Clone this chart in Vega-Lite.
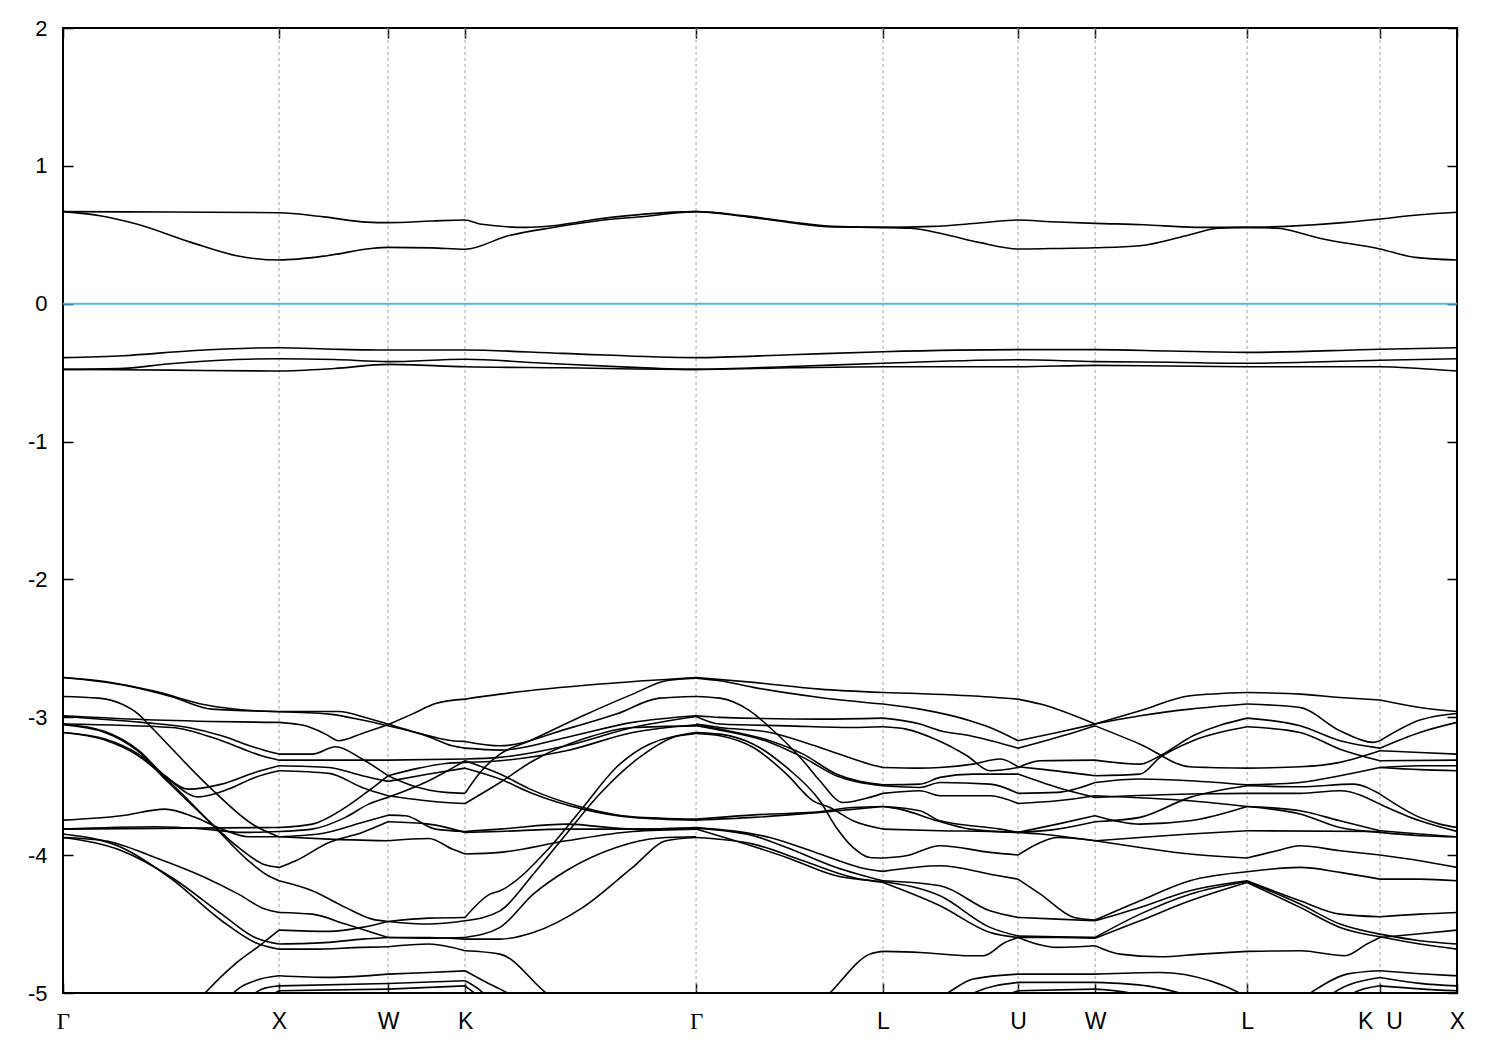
{
"$schema":"https://vega.github.io/schema/vega-lite/v6.json",
"width":1394,"height":965,
"autosize":{"type":"none"},
"padding":{"left":63,"top":28,"right":43,"bottom":57},
"background":"white",
"config":{"view":{"stroke":"black","strokeWidth":2},"axis":{"labelFont":"Liberation Sans","labelFontSize":22,"labelColor":"black","tickColor":"black","tickWidth":1.5,"domain":false,"grid":false,"labelOverlap":false,"labelFlush":false}},
"datasets":{
"bands":[
{"b":"cu","k":0,"e":0.668},{"b":"cu","k":0.5,"e":0.665},{"b":"cu","k":0.995,"e":0.66},{"b":"cu","k":1.2,"e":0.63},{"b":"cu","k":1.4,"e":0.592},{"b":"cu","k":1.497,"e":0.588},{"b":"cu","k":1.7,"e":0.6},{"b":"cu","k":1.852,"e":0.607},{"b":"cu","k":1.92,"e":0.578},{"b":"cu","k":2.133,"e":0.554},{"b":"cu","k":2.257,"e":0.566},{"b":"cu","k":2.464,"e":0.614},{"b":"cu","k":2.676,"e":0.65},{"b":"cu","k":2.916,"e":0.668},{"b":"cu","k":3.131,"e":0.639},{"b":"cu","k":3.343,"e":0.595},{"b":"cu","k":3.548,"e":0.561},{"b":"cu","k":3.777,"e":0.554},{"b":"cu","k":4.007,"e":0.561},{"b":"cu","k":4.219,"e":0.585},{"b":"cu","k":4.399,"e":0.607},{"b":"cu","k":4.55,"e":0.595},{"b":"cu","k":4.754,"e":0.583},{"b":"cu","k":4.979,"e":0.573},{"b":"cu","k":5.214,"e":0.554},{"b":"cu","k":5.454,"e":0.554},{"b":"cu","k":5.656,"e":0.563},{"b":"cu","k":5.91,"e":0.59},{"b":"cu","k":6.066,"e":0.615},{"b":"cu","k":6.25,"e":0.645},{"b":"cu","k":6.421,"e":0.663},
{"b":"cl","k":0,"e":0.668},{"b":"cl","k":0.17,"e":0.638},{"b":"cl","k":0.339,"e":0.578},{"b":"cl","k":0.59,"e":0.445},{"b":"cl","k":0.8,"e":0.348},{"b":"cl","k":0.995,"e":0.317},{"b":"cl","k":1.216,"e":0.348},{"b":"cl","k":1.42,"e":0.401},{"b":"cl","k":1.497,"e":0.409},{"b":"cl","k":1.7,"e":0.405},{"b":"cl","k":1.852,"e":0.395},{"b":"cl","k":2.05,"e":0.493},{"b":"cl","k":2.257,"e":0.553},{"b":"cl","k":2.464,"e":0.602},{"b":"cl","k":2.676,"e":0.633},{"b":"cl","k":2.916,"e":0.668},{"b":"cl","k":3.131,"e":0.635},{"b":"cl","k":3.343,"e":0.59},{"b":"cl","k":3.548,"e":0.557},{"b":"cl","k":3.777,"e":0.554},{"b":"cl","k":3.906,"e":0.547},{"b":"cl","k":4.054,"e":0.506},{"b":"cl","k":4.219,"e":0.445},{"b":"cl","k":4.399,"e":0.397},{"b":"cl","k":4.55,"e":0.4},{"b":"cl","k":4.754,"e":0.406},{"b":"cl","k":4.961,"e":0.421},{"b":"cl","k":5.173,"e":0.493},{"b":"cl","k":5.32,"e":0.547},{"b":"cl","k":5.454,"e":0.554},{"b":"cl","k":5.592,"e":0.547},{"b":"cl","k":5.804,"e":0.469},{"b":"cl","k":6.066,"e":0.397},{"b":"cl","k":6.228,"e":0.336},{"b":"cl","k":6.421,"e":0.317},
{"b":"v1","k":0,"e":-0.391},{"b":"v1","k":0.28,"e":-0.377},{"b":"v1","k":0.59,"e":-0.341},{"b":"v1","k":0.995,"e":-0.319},{"b":"v1","k":1.25,"e":-0.33},{"b":"v1","k":1.497,"e":-0.336},{"b":"v1","k":1.852,"e":-0.336},{"b":"v1","k":2.3,"e":-0.36},{"b":"v1","k":2.916,"e":-0.391},{"b":"v1","k":3.35,"e":-0.37},{"b":"v1","k":3.777,"e":-0.348},{"b":"v1","k":4.399,"e":-0.333},{"b":"v1","k":4.754,"e":-0.333},{"b":"v1","k":5.1,"e":-0.343},{"b":"v1","k":5.454,"e":-0.353},{"b":"v1","k":6.066,"e":-0.33},{"b":"v1","k":6.421,"e":-0.319},
{"b":"v2","k":0,"e":-0.476},{"b":"v2","k":0.28,"e":-0.469},{"b":"v2","k":0.48,"e":-0.437},{"b":"v2","k":0.8,"e":-0.405},{"b":"v2","k":0.995,"e":-0.399},{"b":"v2","k":1.25,"e":-0.405},{"b":"v2","k":1.497,"e":-0.42},{"b":"v2","k":1.852,"e":-0.403},{"b":"v2","k":2.2,"e":-0.43},{"b":"v2","k":2.6,"e":-0.46},{"b":"v2","k":2.916,"e":-0.476},{"b":"v2","k":3.35,"e":-0.455},{"b":"v2","k":3.777,"e":-0.432},{"b":"v2","k":4.399,"e":-0.406},{"b":"v2","k":4.754,"e":-0.42},{"b":"v2","k":5.1,"e":-0.425},{"b":"v2","k":5.454,"e":-0.432},{"b":"v2","k":6.066,"e":-0.41},{"b":"v2","k":6.421,"e":-0.399},
{"b":"v3","k":0,"e":-0.476},{"b":"v3","k":0.5,"e":-0.482},{"b":"v3","k":0.995,"e":-0.488},{"b":"v3","k":1.25,"e":-0.47},{"b":"v3","k":1.497,"e":-0.44},{"b":"v3","k":1.852,"e":-0.457},{"b":"v3","k":2.3,"e":-0.465},{"b":"v3","k":2.916,"e":-0.476},{"b":"v3","k":3.35,"e":-0.465},{"b":"v3","k":3.777,"e":-0.457},{"b":"v3","k":4.399,"e":-0.457},{"b":"v3","k":4.754,"e":-0.447},{"b":"v3","k":5.1,"e":-0.452},{"b":"v3","k":5.454,"e":-0.457},{"b":"v3","k":6.066,"e":-0.457},{"b":"v3","k":6.25,"e":-0.47},{"b":"v3","k":6.421,"e":-0.488},

{"b":"s1a","k":0,"e":-2.711},{"b":"s1a","k":0.27,"e":-2.764},{"b":"s1a","k":0.501,"e":-2.851},{"b":"s1a","k":0.685,"e":-2.941},{"b":"s1a","k":0.995,"e":-2.958},
{"b":"s1b","k":0,"e":-2.711},{"b":"s1b","k":0.193,"e":-2.74},{"b":"s1b","k":0.424,"e":-2.812},{"b":"s1b","k":0.654,"e":-2.909},{"b":"s1b","k":0.884,"e":-2.953},{"b":"s1b","k":0.995,"e":-2.96},
{"b":"s1c","k":0,"e":-2.849},{"b":"s1c","k":0.163,"e":-2.861},{"b":"s1c","k":0.27,"e":-2.904},{"b":"s1c","k":0.347,"e":-2.977},{"b":"s1c","k":0.408,"e":-3.074},{"b":"s1c","k":0.669,"e":-3.497},{"b":"s1c","k":0.884,"e":-3.787},{"b":"s1c","k":0.995,"e":-3.867},
{"b":"s1d","k":0,"e":-2.989},{"b":"s1d","k":0.424,"e":-3.02},{"b":"s1d","k":0.995,"e":-3.037},
{"b":"s1e","k":0,"e":-2.994},{"b":"s1e","k":0.362,"e":-3.037},{"b":"s1e","k":0.577,"e":-3.074},{"b":"s1e","k":0.731,"e":-3.134},{"b":"s1e","k":0.884,"e":-3.219},{"b":"s1e","k":0.995,"e":-3.267},
{"b":"s1f","k":0,"e":-3.049},{"b":"s1f","k":0.501,"e":-3.074},{"b":"s1f","k":0.731,"e":-3.17},{"b":"s1f","k":0.915,"e":-3.279},{"b":"s1f","k":0.995,"e":-3.311},
{"b":"s1g","k":0,"e":-3.049},{"b":"s1g","k":0.193,"e":-3.103},{"b":"s1g","k":0.347,"e":-3.238},{"b":"s1g","k":0.47,"e":-3.424},{"b":"s1g","k":0.577,"e":-3.521},{"b":"s1g","k":0.731,"e":-3.485},{"b":"s1g","k":0.884,"e":-3.4},{"b":"s1g","k":0.995,"e":-3.352},
{"b":"s1h","k":0,"e":-3.11},{"b":"s1h","k":0.193,"e":-3.158},{"b":"s1h","k":0.347,"e":-3.267},{"b":"s1h","k":0.485,"e":-3.448},{"b":"s1h","k":0.623,"e":-3.577},{"b":"s1h","k":0.762,"e":-3.521},{"b":"s1h","k":0.884,"e":-3.436},{"b":"s1h","k":0.995,"e":-3.388},
{"b":"s1i","k":0,"e":-3.054},{"b":"s1i","k":0.193,"e":-3.11},{"b":"s1i","k":0.347,"e":-3.248},{"b":"s1i","k":0.47,"e":-3.448},{"b":"s1i","k":0.654,"e":-3.726},{"b":"s1i","k":0.808,"e":-3.944},{"b":"s1i","k":0.93,"e":-4.07},{"b":"s1i","k":0.995,"e":-4.089},
{"b":"s1j","k":0,"e":-3.11},{"b":"s1j","k":0.193,"e":-3.165},{"b":"s1j","k":0.347,"e":-3.279},{"b":"s1j","k":0.501,"e":-3.485},{"b":"s1j","k":0.7,"e":-3.799},{"b":"s1j","k":0.854,"e":-4.041},{"b":"s1j","k":0.946,"e":-4.15},{"b":"s1j","k":0.995,"e":-4.186},
{"b":"s1k","k":0,"e":-3.746},{"b":"s1k","k":0.27,"e":-3.714},{"b":"s1k","k":0.47,"e":-3.666},{"b":"s1k","k":0.608,"e":-3.726},{"b":"s1k","k":0.731,"e":-3.811},{"b":"s1k","k":0.854,"e":-3.867},{"b":"s1k","k":0.995,"e":-3.867},
{"b":"s1l","k":0,"e":-3.811},{"b":"s1l","k":0.995,"e":-3.799},
{"b":"s1m","k":0,"e":-3.811},{"b":"s1m","k":0.424,"e":-3.794},{"b":"s1m","k":0.654,"e":-3.811},{"b":"s1m","k":0.823,"e":-3.835},{"b":"s1m","k":0.995,"e":-3.828},
{"b":"s1n","k":0,"e":-3.872},{"b":"s1n","k":0.193,"e":-3.896},{"b":"s1n","k":0.424,"e":-4.017},{"b":"s1n","k":0.654,"e":-4.162},{"b":"s1n","k":0.808,"e":-4.283},{"b":"s1n","k":0.93,"e":-4.391},{"b":"s1n","k":0.995,"e":-4.416},
{"b":"s1o","k":0,"e":-3.872},{"b":"s1o","k":0.27,"e":-3.968},{"b":"s1o","k":0.501,"e":-4.162},{"b":"s1o","k":0.731,"e":-4.428},{"b":"s1o","k":0.884,"e":-4.597},{"b":"s1o","k":0.995,"e":-4.645},
{"b":"s1p","k":0,"e":-3.847},{"b":"s1p","k":0.27,"e":-3.944},{"b":"s1p","k":0.501,"e":-4.174},{"b":"s1p","k":0.731,"e":-4.476},{"b":"s1p","k":0.884,"e":-4.633},{"b":"s1p","k":0.995,"e":-4.682},
{"b":"s1q","k":0.608,"e":-5.081},{"b":"s1q","k":0.654,"e":-5.001},{"b":"s1q","k":0.792,"e":-4.79},{"b":"s1q","k":0.915,"e":-4.645},{"b":"s1q","k":0.995,"e":-4.544},
{"b":"s1r","k":0.762,"e":-5.081},{"b":"s1r","k":0.785,"e":-5.001},{"b":"s1r","k":0.884,"e":-4.911},{"b":"s1r","k":0.995,"e":-4.875},
{"b":"s1s","k":0.823,"e":-5.081},{"b":"s1s","k":0.915,"e":-4.972},{"b":"s1s","k":0.995,"e":-4.948},
{"b":"s1t","k":0.884,"e":-5.081},{"b":"s1t","k":0.995,"e":-4.984},

{"b":"s2a","k":0.995,"e":-2.958},{"b":"s2a","k":1.27,"e":-2.958},{"b":"s2a","k":1.393,"e":-3.001},{"b":"s2a","k":1.497,"e":-3.049},
{"b":"s2b","k":0.995,"e":-2.96},{"b":"s2b","k":1.225,"e":-2.977},{"b":"s2b","k":1.378,"e":-3.02},{"b":"s2b","k":1.497,"e":-3.062},
{"b":"s2c","k":0.995,"e":-3.037},{"b":"s2c","k":1.117,"e":-3.062},{"b":"s2c","k":1.209,"e":-3.122},{"b":"s2c","k":1.27,"e":-3.17},{"b":"s2c","k":1.378,"e":-3.117},{"b":"s2c","k":1.497,"e":-3.054},
{"b":"s2d","k":0.995,"e":-3.267},{"b":"s2d","k":1.148,"e":-3.267},{"b":"s2d","k":1.255,"e":-3.214},{"b":"s2d","k":1.378,"e":-3.303},{"b":"s2d","k":1.497,"e":-3.424},
{"b":"s2e","k":0.995,"e":-3.311},{"b":"s2e","k":1.497,"e":-3.311},
{"b":"s2f","k":0.995,"e":-3.352},{"b":"s2f","k":1.225,"e":-3.364},{"b":"s2f","k":1.378,"e":-3.424},{"b":"s2f","k":1.497,"e":-3.465},
{"b":"s2g","k":0.995,"e":-3.388},{"b":"s2g","k":1.225,"e":-3.407},{"b":"s2g","k":1.378,"e":-3.509},{"b":"s2g","k":1.497,"e":-3.569},
{"b":"s2h","k":0.995,"e":-3.799},{"b":"s2h","k":1.148,"e":-3.775},{"b":"s2h","k":1.301,"e":-3.654},{"b":"s2h","k":1.408,"e":-3.533},{"b":"s2h","k":1.497,"e":-3.424},
{"b":"s2i","k":0.995,"e":-3.828},{"b":"s2i","k":1.148,"e":-3.811},{"b":"s2i","k":1.301,"e":-3.726},{"b":"s2i","k":1.408,"e":-3.63},{"b":"s2i","k":1.497,"e":-3.581},
{"b":"s2j","k":0.995,"e":-3.867},{"b":"s2j","k":1.179,"e":-3.847},{"b":"s2j","k":1.378,"e":-3.763},{"b":"s2j","k":1.497,"e":-3.71},
{"b":"s2k","k":0.995,"e":-3.867},{"b":"s2k","k":1.225,"e":-3.884},{"b":"s2k","k":1.497,"e":-3.896},
{"b":"s2l","k":0.995,"e":-4.089},{"b":"s2l","k":1.072,"e":-4.041},{"b":"s2l","k":1.225,"e":-3.908},{"b":"s2l","k":1.378,"e":-3.835},{"b":"s2l","k":1.497,"e":-3.758},
{"b":"s2m","k":0.995,"e":-4.186},{"b":"s2m","k":1.148,"e":-4.258},{"b":"s2m","k":1.301,"e":-4.379},{"b":"s2m","k":1.424,"e":-4.464},{"b":"s2m","k":1.497,"e":-4.481},
{"b":"s2n","k":0.995,"e":-4.416},{"b":"s2n","k":1.148,"e":-4.428},{"b":"s2n","k":1.301,"e":-4.5},{"b":"s2n","k":1.497,"e":-4.597},
{"b":"s2o","k":0.995,"e":-4.544},{"b":"s2o","k":1.225,"e":-4.553},{"b":"s2o","k":1.378,"e":-4.524},{"b":"s2o","k":1.497,"e":-4.481},
{"b":"s2p","k":0.995,"e":-4.645},{"b":"s2p","k":1.225,"e":-4.633},{"b":"s2p","k":1.378,"e":-4.609},{"b":"s2p","k":1.497,"e":-4.597},
{"b":"s2q","k":0.995,"e":-4.682},{"b":"s2q","k":1.148,"e":-4.682},{"b":"s2q","k":1.378,"e":-4.669},{"b":"s2q","k":1.497,"e":-4.665},
{"b":"s2r","k":0.995,"e":-4.875},{"b":"s2r","k":1.225,"e":-4.887},{"b":"s2r","k":1.497,"e":-4.863},
{"b":"s2s","k":0.995,"e":-4.948},{"b":"s2s","k":1.497,"e":-4.931},
{"b":"s2t","k":0.995,"e":-4.984},{"b":"s2t","k":1.497,"e":-4.972},

{"b":"s3a","k":1.497,"e":-3.049},{"b":"s3a","k":1.685,"e":-3.134},{"b":"s3a","k":1.793,"e":-3.17},{"b":"s3a","k":1.852,"e":-3.175},
{"b":"s3b","k":1.497,"e":-3.062},{"b":"s3b","k":1.685,"e":-3.141},{"b":"s3b","k":1.793,"e":-3.207},{"b":"s3b","k":1.852,"e":-3.224},
{"b":"s3c","k":1.497,"e":-3.054},{"b":"s3c","k":1.608,"e":-2.977},{"b":"s3c","k":1.716,"e":-2.9},{"b":"s3c","k":1.852,"e":-2.868},
{"b":"s3d","k":1.497,"e":-3.311},{"b":"s3d","k":1.852,"e":-3.303},
{"b":"s3e","k":1.497,"e":-3.424},{"b":"s3e","k":1.624,"e":-3.504},{"b":"s3e","k":1.762,"e":-3.545},{"b":"s3e","k":1.852,"e":-3.552},
{"b":"s3f","k":1.497,"e":-3.424},{"b":"s3f","k":1.639,"e":-3.369},{"b":"s3f","k":1.762,"e":-3.335},{"b":"s3f","k":1.852,"e":-3.327},
{"b":"s3g","k":1.497,"e":-3.465},{"b":"s3g","k":1.685,"e":-3.412},{"b":"s3g","k":1.852,"e":-3.369},
{"b":"s3h","k":1.497,"e":-3.569},{"b":"s3h","k":1.608,"e":-3.593},{"b":"s3h","k":1.762,"e":-3.618},{"b":"s3h","k":1.852,"e":-3.625},
{"b":"s3i","k":1.497,"e":-3.581},{"b":"s3i","k":1.685,"e":-3.46},{"b":"s3i","k":1.852,"e":-3.315},
{"b":"s3j","k":1.497,"e":-3.71},{"b":"s3j","k":1.577,"e":-3.714},{"b":"s3j","k":1.716,"e":-3.811},{"b":"s3j","k":1.852,"e":-3.828},
{"b":"s3k","k":1.497,"e":-3.758},{"b":"s3k","k":1.685,"e":-3.775},{"b":"s3k","k":1.852,"e":-3.835},
{"b":"s3l","k":1.497,"e":-3.896},{"b":"s3l","k":1.685,"e":-3.879},{"b":"s3l","k":1.793,"e":-3.956},{"b":"s3l","k":1.852,"e":-3.992},
{"b":"s3m","k":1.497,"e":-4.481},{"b":"s3m","k":1.685,"e":-4.457},{"b":"s3m","k":1.852,"e":-4.452},
{"b":"s3n","k":1.497,"e":-4.481},{"b":"s3n","k":1.685,"e":-4.5},{"b":"s3n","k":1.852,"e":-4.476},
{"b":"s3o","k":1.497,"e":-4.597},{"b":"s3o","k":1.685,"e":-4.602},{"b":"s3o","k":1.852,"e":-4.597},
{"b":"s3p","k":1.497,"e":-4.597},{"b":"s3p","k":1.685,"e":-4.597},{"b":"s3p","k":1.852,"e":-4.609},
{"b":"s3q","k":1.497,"e":-4.665},{"b":"s3q","k":1.685,"e":-4.645},{"b":"s3q","k":1.852,"e":-4.694},
{"b":"s3r","k":1.497,"e":-4.863},{"b":"s3r","k":1.685,"e":-4.851},{"b":"s3r","k":1.852,"e":-4.839},
{"b":"s3s","k":1.497,"e":-4.931},{"b":"s3s","k":1.852,"e":-4.911},
{"b":"s3t","k":1.497,"e":-4.972},{"b":"s3t","k":1.852,"e":-4.948},

{"b":"s4a","k":1.852,"e":-2.868},{"b":"s4a","k":2.013,"e":-2.832},{"b":"s4a","k":2.472,"e":-2.759},{"b":"s4a","k":2.916,"e":-2.711},
{"b":"s4b","k":1.852,"e":-3.552},{"b":"s4b","k":1.921,"e":-3.4},{"b":"s4b","k":2.013,"e":-3.267},{"b":"s4b","k":2.151,"e":-3.17},{"b":"s4b","k":2.395,"e":-2.989},{"b":"s4b","k":2.624,"e":-2.832},{"b":"s4b","k":2.778,"e":-2.735},{"b":"s4b","k":2.916,"e":-2.716},
{"b":"s4c","k":1.852,"e":-3.175},{"b":"s4c","k":2.013,"e":-3.207},{"b":"s4c","k":2.318,"e":-3.086},{"b":"s4c","k":2.548,"e":-2.977},{"b":"s4c","k":2.747,"e":-2.861},{"b":"s4c","k":2.916,"e":-2.849},
{"b":"s4d","k":1.852,"e":-3.224},{"b":"s4d","k":2.013,"e":-3.238},{"b":"s4d","k":2.318,"e":-3.146},{"b":"s4d","k":2.624,"e":-3.037},{"b":"s4d","k":2.916,"e":-2.989},
{"b":"s4e","k":1.852,"e":-3.303},{"b":"s4e","k":2.013,"e":-3.291},{"b":"s4e","k":2.318,"e":-3.207},{"b":"s4e","k":2.624,"e":-3.074},{"b":"s4e","k":2.916,"e":-2.994},
{"b":"s4f","k":1.852,"e":-3.327},{"b":"s4f","k":2.013,"e":-3.315},{"b":"s4f","k":2.318,"e":-3.243},{"b":"s4f","k":2.624,"e":-3.11},{"b":"s4f","k":2.916,"e":-3.054},
{"b":"s4g","k":1.852,"e":-3.315},{"b":"s4g","k":2.013,"e":-3.412},{"b":"s4g","k":2.151,"e":-3.521},{"b":"s4g","k":2.395,"e":-3.654},{"b":"s4g","k":2.624,"e":-3.722},{"b":"s4g","k":2.916,"e":-3.739},
{"b":"s4h","k":1.852,"e":-3.369},{"b":"s4h","k":2.013,"e":-3.448},{"b":"s4h","k":2.151,"e":-3.545},{"b":"s4h","k":2.395,"e":-3.666},{"b":"s4h","k":2.624,"e":-3.726},{"b":"s4h","k":2.916,"e":-3.746},
{"b":"s4i","k":1.852,"e":-3.625},{"b":"s4i","k":2.013,"e":-3.473},{"b":"s4i","k":2.166,"e":-3.315},{"b":"s4i","k":2.395,"e":-3.158},{"b":"s4i","k":2.624,"e":-3.074},{"b":"s4i","k":2.916,"e":-3.062},
{"b":"s4j","k":1.852,"e":-4.452},{"b":"s4j","k":1.967,"e":-4.283},{"b":"s4j","k":2.013,"e":-4.258},{"b":"s4j","k":2.242,"e":-3.944},{"b":"s4j","k":2.395,"e":-3.654},{"b":"s4j","k":2.548,"e":-3.364},{"b":"s4j","k":2.701,"e":-3.195},{"b":"s4j","k":2.916,"e":-3.117},
{"b":"s4k","k":1.852,"e":-4.476},{"b":"s4k","k":2.013,"e":-4.404},{"b":"s4k","k":2.166,"e":-4.138},{"b":"s4k","k":2.318,"e":-3.847},{"b":"s4k","k":2.472,"e":-3.557},{"b":"s4k","k":2.655,"e":-3.291},{"b":"s4k","k":2.808,"e":-3.146},{"b":"s4k","k":2.916,"e":-3.11},
{"b":"s4l","k":1.852,"e":-3.828},{"b":"s4l","k":2.013,"e":-3.811},{"b":"s4l","k":2.318,"e":-3.775},{"b":"s4l","k":2.624,"e":-3.811},{"b":"s4l","k":2.916,"e":-3.799},
{"b":"s4m","k":1.852,"e":-3.835},{"b":"s4m","k":2.013,"e":-3.828},{"b":"s4m","k":2.318,"e":-3.811},{"b":"s4m","k":2.624,"e":-3.811},{"b":"s4m","k":2.916,"e":-3.804},
{"b":"s4n","k":1.852,"e":-3.992},{"b":"s4n","k":2.013,"e":-3.98},{"b":"s4n","k":2.318,"e":-3.896},{"b":"s4n","k":2.624,"e":-3.828},{"b":"s4n","k":2.916,"e":-3.811},
{"b":"s4o","k":1.852,"e":-4.609},{"b":"s4o","k":2.013,"e":-4.609},{"b":"s4o","k":2.166,"e":-4.561},{"b":"s4o","k":2.395,"e":-4.379},{"b":"s4o","k":2.624,"e":-4.089},{"b":"s4o","k":2.778,"e":-3.896},{"b":"s4o","k":2.916,"e":-3.872},
{"b":"s4q","k":1.852,"e":-4.597},{"b":"s4q","k":2.013,"e":-4.524},{"b":"s4q","k":2.166,"e":-4.283},{"b":"s4q","k":2.318,"e":-4.113},{"b":"s4q","k":2.548,"e":-3.944},{"b":"s4q","k":2.747,"e":-3.876},{"b":"s4q","k":2.916,"e":-3.867},
{"b":"s4p","k":1.852,"e":-4.694},{"b":"s4p","k":2.013,"e":-4.718},{"b":"s4p","k":2.226,"e":-5.001},{"b":"s4p","k":2.318,"e":-5.105},
{"b":"s4r","k":1.852,"e":-4.839},{"b":"s4r","k":1.936,"e":-4.911},{"b":"s4r","k":2.013,"e":-4.972},{"b":"s4r","k":2.089,"e":-5.032},
{"b":"s4s","k":1.852,"e":-4.911},{"b":"s4s","k":1.936,"e":-5.001},{"b":"s4s","k":1.967,"e":-5.056},
{"b":"s4t","k":1.852,"e":-4.948},{"b":"s4t","k":1.921,"e":-5.032},

{"b":"s5a","k":2.916,"e":-2.711},{"b":"s5a","k":3.18,"e":-2.747},{"b":"s5a","k":3.486,"e":-2.796},{"b":"s5a","k":3.777,"e":-2.82},
{"b":"s5b","k":2.916,"e":-2.716},{"b":"s5b","k":3.026,"e":-2.735},{"b":"s5b","k":3.18,"e":-2.783},{"b":"s5b","k":3.486,"e":-2.856},{"b":"s5b","k":3.777,"e":-2.904},
{"b":"s5c","k":2.916,"e":-2.849},{"b":"s5c","k":3.026,"e":-2.861},{"b":"s5c","k":3.164,"e":-2.953},{"b":"s5c","k":3.256,"e":-3.074},{"b":"s5c","k":3.409,"e":-3.315},{"b":"s5c","k":3.486,"e":-3.46},{"b":"s5c","k":3.593,"e":-3.618},{"b":"s5c","k":3.716,"e":-3.581},{"b":"s5c","k":3.777,"e":-3.552},
{"b":"s5d","k":2.916,"e":-2.989},{"b":"s5d","k":3.026,"e":-3.001},{"b":"s5d","k":3.486,"e":-3.013},{"b":"s5d","k":3.777,"e":-3.006},
{"b":"s5e","k":2.916,"e":-2.994},{"b":"s5e","k":3.026,"e":-3.049},{"b":"s5e","k":3.333,"e":-3.062},{"b":"s5e","k":3.639,"e":-3.074},{"b":"s5e","k":3.777,"e":-3.069},
{"b":"s5f","k":2.916,"e":-3.049},{"b":"s5f","k":3.026,"e":-3.074},{"b":"s5f","k":3.256,"e":-3.11},{"b":"s5f","k":3.486,"e":-3.219},{"b":"s5f","k":3.716,"e":-3.34},{"b":"s5f","k":3.777,"e":-3.364},
{"b":"s5g","k":2.916,"e":-3.054},{"b":"s5g","k":3.026,"e":-3.086},{"b":"s5g","k":3.256,"e":-3.17},{"b":"s5g","k":3.409,"e":-3.267},{"b":"s5g","k":3.562,"e":-3.412},{"b":"s5g","k":3.777,"e":-3.49},
{"b":"s5h","k":2.916,"e":-3.062},{"b":"s5h","k":3.026,"e":-3.093},{"b":"s5h","k":3.256,"e":-3.182},{"b":"s5h","k":3.409,"e":-3.291},{"b":"s5h","k":3.562,"e":-3.424},{"b":"s5h","k":3.777,"e":-3.497},
{"b":"s5i","k":2.916,"e":-3.11},{"b":"s5i","k":3.026,"e":-3.122},{"b":"s5i","k":3.18,"e":-3.195},{"b":"s5i","k":3.333,"e":-3.364},{"b":"s5i","k":3.486,"e":-3.606},{"b":"s5i","k":3.562,"e":-3.799},{"b":"s5i","k":3.639,"e":-3.944},{"b":"s5i","k":3.716,"e":-4.017},{"b":"s5i","k":3.777,"e":-4.021},
{"b":"s5j","k":2.916,"e":-3.117},{"b":"s5j","k":3.026,"e":-3.134},{"b":"s5j","k":3.18,"e":-3.219},{"b":"s5j","k":3.333,"e":-3.412},{"b":"s5j","k":3.455,"e":-3.606},{"b":"s5j","k":3.532,"e":-3.654},{"b":"s5j","k":3.639,"e":-3.751},{"b":"s5j","k":3.777,"e":-3.811},
{"b":"s5k","k":2.916,"e":-3.739},{"b":"s5k","k":3.256,"e":-3.702},{"b":"s5k","k":3.455,"e":-3.69},{"b":"s5k","k":3.639,"e":-3.654},{"b":"s5k","k":3.777,"e":-3.647},
{"b":"s5l","k":2.916,"e":-3.746},{"b":"s5l","k":3.18,"e":-3.726},{"b":"s5l","k":3.486,"e":-3.69},{"b":"s5l","k":3.777,"e":-3.647},
{"b":"s5m","k":2.916,"e":-3.799},{"b":"s5m","k":3.256,"e":-3.872},{"b":"s5m","k":3.486,"e":-3.992},{"b":"s5m","k":3.67,"e":-4.089},{"b":"s5m","k":3.777,"e":-4.118},
{"b":"s5n","k":2.916,"e":-3.804},{"b":"s5n","k":3.18,"e":-3.859},{"b":"s5n","k":3.333,"e":-3.944},{"b":"s5n","k":3.562,"e":-4.089},{"b":"s5n","k":3.777,"e":-4.186},
{"b":"s5o","k":2.916,"e":-3.811},{"b":"s5o","k":3.333,"e":-4.017},{"b":"s5o","k":3.562,"e":-4.15},{"b":"s5o","k":3.777,"e":-4.191},
{"b":"s5p","k":2.916,"e":-3.872},{"b":"s5p","k":3.18,"e":-3.92},{"b":"s5p","k":3.409,"e":-4.041},{"b":"s5p","k":3.639,"e":-4.162},{"b":"s5p","k":3.777,"e":-4.198},
{"b":"s5q","k":3.409,"e":-5.189},{"b":"s5q","k":3.532,"e":-5.001},{"b":"s5q","k":3.716,"e":-4.718},{"b":"s5q","k":3.777,"e":-4.698},

{"b":"s6a","k":3.777,"e":-2.82},{"b":"s6a","k":4.178,"e":-2.844},{"b":"s6a","k":4.399,"e":-2.868},
{"b":"s6b","k":3.777,"e":-2.904},{"b":"s6b","k":3.947,"e":-2.941},{"b":"s6b","k":4.178,"e":-3.025},{"b":"s6b","k":4.27,"e":-3.074},{"b":"s6b","k":4.399,"e":-3.17},
{"b":"s6c","k":3.777,"e":-3.006},{"b":"s6c","k":3.947,"e":-3.049},{"b":"s6c","k":4.04,"e":-3.098},{"b":"s6c","k":4.178,"e":-3.134},{"b":"s6c","k":4.399,"e":-3.224},
{"b":"s6d","k":3.777,"e":-3.069},{"b":"s6d","k":3.883,"e":-3.086},{"b":"s6d","k":4.026,"e":-3.165},{"b":"s6d","k":4.164,"e":-3.279},{"b":"s6d","k":4.27,"e":-3.388},{"b":"s6d","k":4.399,"e":-3.364},
{"b":"s6e","k":3.777,"e":-3.364},{"b":"s6e","k":3.947,"e":-3.369},{"b":"s6e","k":4.04,"e":-3.364},{"b":"s6e","k":4.192,"e":-3.34},{"b":"s6e","k":4.316,"e":-3.303},{"b":"s6e","k":4.399,"e":-3.359},
{"b":"s6f","k":3.777,"e":-3.49},{"b":"s6f","k":3.947,"e":-3.485},{"b":"s6f","k":4.04,"e":-3.436},{"b":"s6f","k":4.192,"e":-3.412},{"b":"s6f","k":4.399,"e":-3.412},
{"b":"s6g","k":3.777,"e":-3.497},{"b":"s6g","k":3.947,"e":-3.509},{"b":"s6g","k":4.04,"e":-3.473},{"b":"s6g","k":4.27,"e":-3.485},{"b":"s6g","k":4.399,"e":-3.552},
{"b":"s6h","k":3.777,"e":-3.552},{"b":"s6h","k":3.947,"e":-3.533},{"b":"s6h","k":4.04,"e":-3.569},{"b":"s6h","k":4.27,"e":-3.569},{"b":"s6h","k":4.399,"e":-3.625},
{"b":"s6i","k":3.777,"e":-3.647},{"b":"s6i","k":3.855,"e":-3.666},{"b":"s6i","k":4.026,"e":-3.751},{"b":"s6i","k":4.178,"e":-3.811},{"b":"s6i","k":4.399,"e":-3.835},
{"b":"s6j","k":3.777,"e":-3.647},{"b":"s6j","k":3.947,"e":-3.678},{"b":"s6j","k":4.04,"e":-3.751},{"b":"s6j","k":4.316,"e":-3.811},{"b":"s6j","k":4.399,"e":-3.835},
{"b":"s6k","k":3.777,"e":-3.811},{"b":"s6k","k":4.04,"e":-3.823},{"b":"s6k","k":4.27,"e":-3.828},{"b":"s6k","k":4.399,"e":-3.835},
{"b":"s6l","k":3.777,"e":-4.021},{"b":"s6l","k":3.883,"e":-4.005},{"b":"s6l","k":4.04,"e":-3.932},{"b":"s6l","k":4.27,"e":-3.98},{"b":"s6l","k":4.399,"e":-3.999},
{"b":"s6m","k":3.777,"e":-4.118},{"b":"s6m","k":4.04,"e":-4.077},{"b":"s6m","k":4.27,"e":-4.138},{"b":"s6m","k":4.399,"e":-4.174},
{"b":"s6n","k":3.777,"e":-4.186},{"b":"s6n","k":4.04,"e":-4.222},{"b":"s6n","k":4.27,"e":-4.404},{"b":"s6n","k":4.399,"e":-4.452},
{"b":"s6o","k":3.777,"e":-4.191},{"b":"s6o","k":4.04,"e":-4.295},{"b":"s6o","k":4.27,"e":-4.524},{"b":"s6o","k":4.399,"e":-4.587},
{"b":"s6p","k":3.777,"e":-4.198},{"b":"s6p","k":4.04,"e":-4.367},{"b":"s6p","k":4.27,"e":-4.561},{"b":"s6p","k":4.399,"e":-4.597},
{"b":"s6q","k":3.777,"e":-4.698},{"b":"s6q","k":3.947,"e":-4.706},{"b":"s6q","k":4.178,"e":-4.73},{"b":"s6q","k":4.238,"e":-4.73},{"b":"s6q","k":4.339,"e":-4.633},{"b":"s6q","k":4.399,"e":-4.597},
{"b":"d6a","k":3.947,"e":-5.105},{"b":"d6a","k":4.072,"e":-5.001},{"b":"d6a","k":4.192,"e":-4.899},{"b":"d6a","k":4.399,"e":-4.863},
{"b":"d6b","k":4.132,"e":-5.105},{"b":"d6b","k":4.192,"e":-5.001},{"b":"d6b","k":4.399,"e":-4.923},
{"b":"d6c","k":4.316,"e":-5.032},{"b":"d6c","k":4.399,"e":-4.984},

{"b":"s7a","k":4.399,"e":-2.868},{"b":"s7a","k":4.502,"e":-2.904},{"b":"s7a","k":4.754,"e":-3.049},
{"b":"s7b","k":4.399,"e":-3.17},{"b":"s7b","k":4.58,"e":-3.11},{"b":"s7b","k":4.754,"e":-3.049},
{"b":"s7c","k":4.399,"e":-3.224},{"b":"s7c","k":4.657,"e":-3.11},{"b":"s7c","k":4.754,"e":-3.062},
{"b":"s7d","k":4.399,"e":-3.364},{"b":"s7d","k":4.502,"e":-3.315},{"b":"s7d","k":4.754,"e":-3.311},
{"b":"s7e","k":4.399,"e":-3.359},{"b":"s7e","k":4.502,"e":-3.376},{"b":"s7e","k":4.754,"e":-3.424},
{"b":"s7f","k":4.399,"e":-3.412},{"b":"s7f","k":4.58,"e":-3.509},{"b":"s7f","k":4.754,"e":-3.581},
{"b":"s7g","k":4.399,"e":-3.552},{"b":"s7g","k":4.58,"e":-3.545},{"b":"s7g","k":4.754,"e":-3.473},
{"b":"s7h","k":4.399,"e":-3.625},{"b":"s7h","k":4.58,"e":-3.606},{"b":"s7h","k":4.754,"e":-3.569},
{"b":"s7i","k":4.399,"e":-3.835},{"b":"s7i","k":4.58,"e":-3.775},{"b":"s7i","k":4.754,"e":-3.714},
{"b":"s7j","k":4.399,"e":-3.835},{"b":"s7j","k":4.58,"e":-3.811},{"b":"s7j","k":4.754,"e":-3.758},
{"b":"s7k","k":4.399,"e":-3.835},{"b":"s7k","k":4.502,"e":-3.847},{"b":"s7k","k":4.754,"e":-3.896},
{"b":"s7l","k":4.399,"e":-3.999},{"b":"s7l","k":4.502,"e":-3.908},{"b":"s7l","k":4.58,"e":-3.872},{"b":"s7l","k":4.754,"e":-3.896},
{"b":"s7m","k":4.399,"e":-4.174},{"b":"s7m","k":4.502,"e":-4.283},{"b":"s7m","k":4.657,"e":-4.452},{"b":"s7m","k":4.754,"e":-4.471},
{"b":"s7n","k":4.399,"e":-4.452},{"b":"s7n","k":4.58,"e":-4.464},{"b":"s7n","k":4.754,"e":-4.476},
{"b":"s7o","k":4.399,"e":-4.587},{"b":"s7o","k":4.58,"e":-4.592},{"b":"s7o","k":4.754,"e":-4.597},
{"b":"s7p","k":4.399,"e":-4.597},{"b":"s7p","k":4.58,"e":-4.597},{"b":"s7p","k":4.754,"e":-4.602},
{"b":"s7q","k":4.399,"e":-4.597},{"b":"s7q","k":4.58,"e":-4.669},{"b":"s7q","k":4.754,"e":-4.657},
{"b":"d7a","k":4.399,"e":-4.863},{"b":"d7a","k":4.754,"e":-4.863},
{"b":"d7b","k":4.399,"e":-4.923},{"b":"d7b","k":4.754,"e":-4.923},
{"b":"d7c","k":4.399,"e":-4.984},{"b":"d7c","k":4.754,"e":-4.972},

{"b":"s8a","k":4.754,"e":-3.049},{"b":"s8a","k":4.961,"e":-2.953},{"b":"s8a","k":5.191,"e":-2.844},{"b":"s8a","k":5.454,"e":-2.82},
{"b":"s8b","k":4.754,"e":-3.049},{"b":"s8b","k":4.961,"e":-2.989},{"b":"s8b","k":5.191,"e":-2.941},{"b":"s8b","k":5.454,"e":-2.904},
{"b":"s8c","k":4.754,"e":-3.062},{"b":"s8c","k":4.961,"e":-3.195},{"b":"s8c","k":5.191,"e":-3.359},{"b":"s8c","k":5.283,"e":-3.364},{"b":"s8c","k":5.454,"e":-3.369},
{"b":"s8d","k":4.754,"e":-3.311},{"b":"s8d","k":4.961,"e":-3.34},{"b":"s8d","k":5.053,"e":-3.279},{"b":"s8d","k":5.205,"e":-3.134},{"b":"s8d","k":5.454,"e":-3.006},
{"b":"s8e","k":4.754,"e":-3.424},{"b":"s8e","k":4.961,"e":-3.412},{"b":"s8e","k":5.053,"e":-3.291},{"b":"s8e","k":5.205,"e":-3.17},{"b":"s8e","k":5.454,"e":-3.069},
{"b":"s8f","k":4.754,"e":-3.473},{"b":"s8f","k":4.961,"e":-3.448},{"b":"s8f","k":5.191,"e":-3.46},{"b":"s8f","k":5.454,"e":-3.49},
{"b":"s8g","k":4.754,"e":-3.581},{"b":"s8g","k":5.191,"e":-3.557},{"b":"s8g","k":5.454,"e":-3.552},
{"b":"s8h","k":4.754,"e":-3.569},{"b":"s8h","k":5.191,"e":-3.606},{"b":"s8h","k":5.454,"e":-3.647},
{"b":"s8i","k":4.754,"e":-3.714},{"b":"s8i","k":4.961,"e":-3.775},{"b":"s8i","k":5.191,"e":-3.751},{"b":"s8i","k":5.454,"e":-3.647},
{"b":"s8j","k":4.754,"e":-3.758},{"b":"s8j","k":4.961,"e":-3.726},{"b":"s8j","k":5.191,"e":-3.581},{"b":"s8j","k":5.454,"e":-3.497},
{"b":"s8k","k":4.754,"e":-3.896},{"b":"s8k","k":4.961,"e":-3.872},{"b":"s8k","k":5.191,"e":-3.847},{"b":"s8k","k":5.454,"e":-3.823},
{"b":"s8l","k":4.754,"e":-3.896},{"b":"s8l","k":4.961,"e":-3.944},{"b":"s8l","k":5.191,"e":-3.992},{"b":"s8l","k":5.454,"e":-4.021},
{"b":"s8m","k":4.754,"e":-4.471},{"b":"s8m","k":4.961,"e":-4.331},{"b":"s8m","k":5.191,"e":-4.186},{"b":"s8m","k":5.454,"e":-4.121},
{"b":"s8n","k":4.754,"e":-4.476},{"b":"s8n","k":4.961,"e":-4.379},{"b":"s8n","k":5.191,"e":-4.258},{"b":"s8n","k":5.454,"e":-4.186},
{"b":"s8o","k":4.754,"e":-4.597},{"b":"s8o","k":4.961,"e":-4.428},{"b":"s8o","k":5.191,"e":-4.283},{"b":"s8o","k":5.454,"e":-4.191},
{"b":"s8p","k":4.754,"e":-4.602},{"b":"s8p","k":4.961,"e":-4.476},{"b":"s8p","k":5.191,"e":-4.331},{"b":"s8p","k":5.454,"e":-4.198},
{"b":"s8q","k":4.754,"e":-4.657},{"b":"s8q","k":4.869,"e":-4.718},{"b":"s8q","k":5.053,"e":-4.737},{"b":"s8q","k":5.237,"e":-4.718},{"b":"s8q","k":5.454,"e":-4.698},
{"b":"d8a","k":4.754,"e":-4.863},{"b":"d8a","k":5.053,"e":-4.851},{"b":"d8a","k":5.283,"e":-4.911},{"b":"d8a","k":5.421,"e":-5.001},{"b":"d8a","k":5.454,"e":-5.03},
{"b":"d8b","k":4.754,"e":-4.923},{"b":"d8b","k":5.0,"e":-4.95},{"b":"d8b","k":5.145,"e":-5.001},{"b":"d8b","k":5.2,"e":-5.03},
{"b":"d8c","k":4.754,"e":-4.972},{"b":"d8c","k":4.915,"e":-5.001},{"b":"d8c","k":4.98,"e":-5.03},

{"b":"s9a","k":5.454,"e":-2.82},{"b":"s9a","k":5.698,"e":-2.832},{"b":"s9a","k":5.882,"e":-2.856},{"b":"s9a","k":6.066,"e":-2.875},
{"b":"s9b","k":5.454,"e":-2.904},{"b":"s9b","k":5.698,"e":-2.929},{"b":"s9b","k":5.882,"e":-3.098},{"b":"s9b","k":6.034,"e":-3.182},{"b":"s9b","k":6.066,"e":-3.17},
{"b":"s9c","k":5.454,"e":-3.006},{"b":"s9c","k":5.698,"e":-3.062},{"b":"s9c","k":5.882,"e":-3.17},{"b":"s9c","k":6.066,"e":-3.224},
{"b":"s9d","k":5.454,"e":-3.069},{"b":"s9d","k":5.698,"e":-3.11},{"b":"s9d","k":5.882,"e":-3.231},{"b":"s9d","k":6.066,"e":-3.315},
{"b":"s9e","k":5.454,"e":-3.369},{"b":"s9e","k":5.698,"e":-3.359},{"b":"s9e","k":5.882,"e":-3.327},{"b":"s9e","k":6.066,"e":-3.243},
{"b":"s9f","k":5.454,"e":-3.49},{"b":"s9f","k":5.698,"e":-3.473},{"b":"s9f","k":5.882,"e":-3.424},{"b":"s9f","k":6.066,"e":-3.364},
{"b":"s9g","k":5.454,"e":-3.497},{"b":"s9g","k":5.698,"e":-3.504},{"b":"s9g","k":5.942,"e":-3.485},{"b":"s9g","k":6.066,"e":-3.557},
{"b":"s9h","k":5.454,"e":-3.552},{"b":"s9h","k":5.698,"e":-3.552},{"b":"s9h","k":5.882,"e":-3.533},{"b":"s9h","k":6.066,"e":-3.63},
{"b":"s9i","k":5.454,"e":-3.647},{"b":"s9i","k":5.698,"e":-3.678},{"b":"s9i","k":5.882,"e":-3.751},{"b":"s9i","k":6.066,"e":-3.823},
{"b":"s9j","k":5.454,"e":-3.647},{"b":"s9j","k":5.698,"e":-3.702},{"b":"s9j","k":5.882,"e":-3.8},{"b":"s9j","k":6.066,"e":-3.835},
{"b":"s9k","k":5.454,"e":-3.823},{"b":"s9k","k":6.066,"e":-3.828},
{"b":"s9l","k":5.454,"e":-4.021},{"b":"s9l","k":5.592,"e":-3.968},{"b":"s9l","k":5.698,"e":-3.932},{"b":"s9l","k":5.882,"e":-3.968},{"b":"s9l","k":6.066,"e":-3.999},
{"b":"s9m","k":5.454,"e":-4.121},{"b":"s9m","k":5.698,"e":-4.089},{"b":"s9m","k":5.882,"e":-4.125},{"b":"s9m","k":6.066,"e":-4.174},
{"b":"s9n","k":5.454,"e":-4.186},{"b":"s9n","k":5.698,"e":-4.331},{"b":"s9n","k":5.882,"e":-4.428},{"b":"s9n","k":6.066,"e":-4.447},
{"b":"s9o","k":5.454,"e":-4.191},{"b":"s9o","k":5.698,"e":-4.355},{"b":"s9o","k":5.882,"e":-4.5},{"b":"s9o","k":6.066,"e":-4.573},
{"b":"s9p","k":5.454,"e":-4.198},{"b":"s9p","k":5.698,"e":-4.379},{"b":"s9p","k":5.882,"e":-4.524},{"b":"s9p","k":6.066,"e":-4.592},
{"b":"s9q","k":5.454,"e":-4.698},{"b":"s9q","k":5.698,"e":-4.694},{"b":"s9q","k":5.905,"e":-4.73},{"b":"s9q","k":6.006,"e":-4.645},{"b":"s9q","k":6.066,"e":-4.597},
{"b":"d9a","k":5.65,"e":-5.1},{"b":"d9a","k":5.744,"e":-5.001},{"b":"d9a","k":5.914,"e":-4.863},{"b":"d9a","k":6.066,"e":-4.839},
{"b":"d9b","k":5.78,"e":-5.1},{"b":"d9b","k":5.85,"e":-5.001},{"b":"d9b","k":6.066,"e":-4.887},
{"b":"d9c","k":5.88,"e":-5.1},{"b":"d9c","k":5.942,"e":-5.001},{"b":"d9c","k":6.066,"e":-4.948},

{"b":"s10a","k":6.066,"e":-2.875},{"b":"s10a","k":6.25,"e":-2.929},{"b":"s10a","k":6.421,"e":-2.958},
{"b":"s10b","k":6.066,"e":-3.17},{"b":"s10b","k":6.25,"e":-3.02},{"b":"s10b","k":6.421,"e":-2.972},
{"b":"s10c","k":6.066,"e":-3.224},{"b":"s10c","k":6.25,"e":-3.11},{"b":"s10c","k":6.421,"e":-3.037},
{"b":"s10d","k":6.066,"e":-3.243},{"b":"s10d","k":6.25,"e":-3.255},{"b":"s10d","k":6.421,"e":-3.267},
{"b":"s10e","k":6.066,"e":-3.315},{"b":"s10e","k":6.421,"e":-3.311},
{"b":"s10f","k":6.066,"e":-3.364},{"b":"s10f","k":6.25,"e":-3.352},{"b":"s10f","k":6.421,"e":-3.352},
{"b":"s10q","k":6.066,"e":-3.364},{"b":"s10q","k":6.25,"e":-3.38},{"b":"s10q","k":6.421,"e":-3.388},
{"b":"s10g","k":6.066,"e":-3.557},{"b":"s10g","k":6.25,"e":-3.726},{"b":"s10g","k":6.342,"e":-3.775},{"b":"s10g","k":6.421,"e":-3.799},
{"b":"s10h","k":6.066,"e":-3.63},{"b":"s10h","k":6.25,"e":-3.751},{"b":"s10h","k":6.421,"e":-3.828},
{"b":"s10i","k":6.066,"e":-3.823},{"b":"s10i","k":6.25,"e":-3.847},{"b":"s10i","k":6.421,"e":-3.867},
{"b":"s10j","k":6.066,"e":-3.835},{"b":"s10j","k":6.25,"e":-3.859},{"b":"s10j","k":6.421,"e":-3.867},
{"b":"s10k","k":6.066,"e":-3.999},{"b":"s10k","k":6.25,"e":-4.041},{"b":"s10k","k":6.421,"e":-4.089},
{"b":"s10l","k":6.066,"e":-4.174},{"b":"s10l","k":6.25,"e":-4.174},{"b":"s10l","k":6.421,"e":-4.186},
{"b":"s10m","k":6.066,"e":-4.447},{"b":"s10m","k":6.25,"e":-4.428},{"b":"s10m","k":6.421,"e":-4.416},
{"b":"s10n","k":6.066,"e":-4.573},{"b":"s10n","k":6.25,"e":-4.621},{"b":"s10n","k":6.421,"e":-4.645},
{"b":"s10o","k":6.066,"e":-4.592},{"b":"s10o","k":6.25,"e":-4.645},{"b":"s10o","k":6.421,"e":-4.682},
{"b":"s10p","k":6.066,"e":-4.597},{"b":"s10p","k":6.25,"e":-4.57},{"b":"s10p","k":6.421,"e":-4.544},
{"b":"d10a","k":6.066,"e":-4.839},{"b":"d10a","k":6.25,"e":-4.86},{"b":"d10a","k":6.421,"e":-4.875},
{"b":"d10b","k":6.066,"e":-4.887},{"b":"d10b","k":6.25,"e":-4.93},{"b":"d10b","k":6.421,"e":-4.948},
{"b":"d10c","k":6.066,"e":-4.948},{"b":"d10c","k":6.25,"e":-4.97},{"b":"d10c","k":6.421,"e":-4.984}
],
"grid":[{"k":0.995},{"k":1.497},{"k":1.852},{"k":2.916},{"k":3.777},{"k":4.399},{"k":4.754},{"k":5.454},{"k":6.066}],
"fermi":[{"e":0}]
},
"resolve":{"scale":{"x":"independent","y":"independent"},"axis":{"x":"independent","y":"independent"}},
"layer":[
{"data":{"name":"grid"},
 "mark":{"type":"rule","color":"#a0a0a0","strokeDash":[3,3],"strokeWidth":1},
 "encoding":{"x":{"field":"k","type":"quantitative","scale":{"domain":[0,6.421],"nice":false,"zero":false},
   "axis":{"orient":"top","values":[0,0.995,1.497,1.852,2.916,3.777,4.399,4.754,5.454,6.066,6.421],"labels":false,"tickSize":-10,"title":null}}}},
{"data":{"name":"fermi"},
 "mark":{"type":"rule","color":"#56b4e9","strokeWidth":2},
 "encoding":{"y":{"field":"e","type":"quantitative","scale":{"domain":[-5,2],"nice":false,"zero":false},
   "axis":{"orient":"right","values":[-5,-4,-3,-2,-1,0,1,2],"labels":false,"tickSize":-10,"title":null}}}},
{"data":{"name":"bands"},
 "mark":{"type":"line","color":"black","strokeWidth":1.6,"clip":true,"interpolate":"monotone"},
 "encoding":{
  "x":{"field":"k","type":"quantitative","scale":{"domain":[0,6.421],"nice":false,"zero":false},
   "axis":{"orient":"bottom","values":[0,0.995,1.497,1.852,2.916,3.777,4.399,4.754,5.454,6.066,6.421],"tickSize":-10,"labelPadding":27,"labelFontSize":23,"title":null,
    "labelFont":{"condition":{"test":"datum.value < 0.3 || (datum.value > 2.5 && datum.value < 3.3)","value":"Liberation Serif"},"value":"Liberation Sans"},
    "labelExpr":"datum.value < 0.5 ? 'Γ' : datum.value < 1.2 ? 'X' : datum.value < 1.7 ? 'W' : datum.value < 2.2 ? 'K' : datum.value < 3.2 ? 'Γ' : datum.value < 4 ? 'L' : datum.value < 4.6 ? 'U' : datum.value < 5 ? 'W' : datum.value < 5.8 ? 'L' : datum.value < 6.3 ? 'K\u00a0\u00a0U' : 'X'"}},
  "y":{"field":"e","type":"quantitative","scale":{"domain":[-5,2],"nice":false,"zero":false},
   "axis":{"orient":"left","values":[-5,-4,-3,-2,-1,0,1,2],"tickSize":-10,"labelPadding":26,"title":null,"labelExpr":"'' + datum.value"}},
  "detail":{"field":"b","type":"nominal"}}}
]
}
